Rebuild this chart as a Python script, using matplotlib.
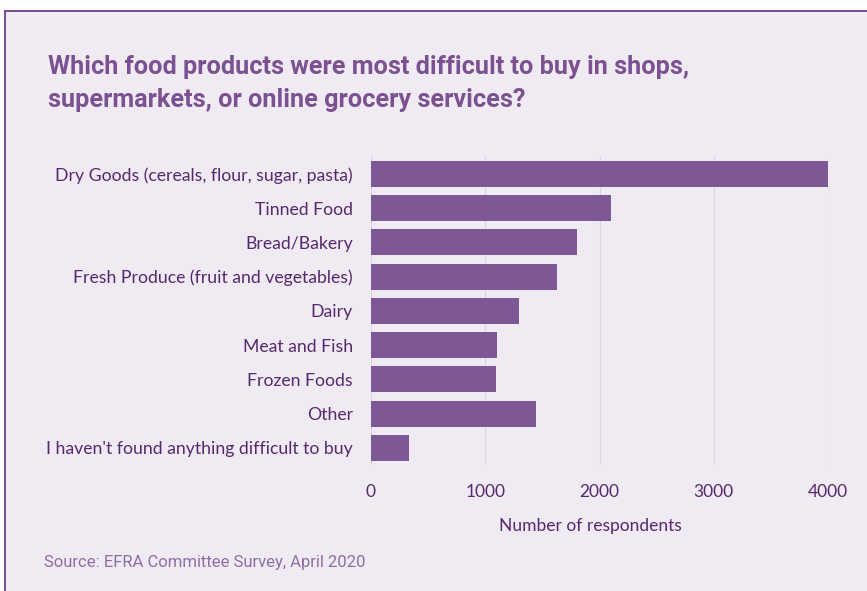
import matplotlib.pyplot as plt
from matplotlib.patches import Rectangle

# survey answers, top to bottom
categories = [
    "Dry Goods (cereals, flour, sugar, pasta)",
    "Tinned Food",
    "Bread/Bakery",
    "Fresh Produce (fruit and vegetables)",
    "Dairy",
    "Meat and Fish",
    "Frozen Foods",
    "Other",
    "I haven't found anything difficult to buy",
]
respondents = [4000, 2100, 1805, 1625, 1297, 1107, 1090, 1440, 333]
x_ticks = [0, 1000, 2000, 3000, 4000]

bg = "#f0eaf2"
bar_col = "#7e5894"
title_col = "#7b5192"
text_col = "#55296d"
label_font = ["Lato", "DejaVu Sans"]

W, H = 867, 591
fig = plt.figure(figsize=(W / 100, H / 100), dpi=100)
fig.patch.set_facecolor("white")

# panel with a purple frame on top and left
fig.patches.append(Rectangle((5 / W, -0.01), 1.0, 1.01 - 11 / H, transform=fig.transFigure,
                             facecolor=bg, edgecolor="#6b3d8c", linewidth=1.3, zorder=-10))

ax = fig.add_axes([371 / W, 1 - 465 / H, (828 - 371) / W, (465 - 156) / H])
ax.patch.set_alpha(0)

ypos = list(range(len(categories)))
ax.barh(ypos, respondents, height=0.76, color=bar_col, zorder=3)
ax.set_ylim(len(categories) - 0.5, -0.52)
ax.set_xlim(0, 4000)
ax.set_xticks(x_ticks)
ax.set_yticks(ypos)
ax.set_yticklabels(categories, fontsize=12.7, color=text_col, family=label_font)
for lbl in ax.get_xticklabels():
    lbl.set_fontsize(12.5)
    lbl.set_color(text_col)
    lbl.set_family(label_font)
ax.tick_params(axis="y", length=0, pad=13)
ax.tick_params(axis="x", length=0, pad=14)
ax.grid(axis="x", color="#ddd3e2", linewidth=0.9, zorder=0)
for s in ax.spines.values():
    s.set_visible(False)

fig.text(590 / W, 1 - 526 / H, "Number of respondents", ha="center", va="center",
         fontsize=12.5, color=text_col, family=label_font)

title_font = ["Roboto", "DejaVu Sans"]
fig.text(48 / W, 1 - 67 / H, "Which food products were most difficult to buy in shops,",
         ha="left", va="center", fontsize=18.2, fontweight="bold", color=title_col,
         family=title_font)
fig.text(48 / W, 1 - 100 / H, "supermarkets, or online grocery services?",
         ha="left", va="center", fontsize=18.2, fontweight="bold", color=title_col,
         family=title_font)

fig.text(44 / W, 1 - 563 / H, "Source: EFRA Committee Survey, April 2020", ha="left", va="center",
         fontsize=12, color="#8f6fa3", family=["Roboto", "DejaVu Sans"])

fig.savefig("out.png", dpi=100, facecolor=fig.get_facecolor())
